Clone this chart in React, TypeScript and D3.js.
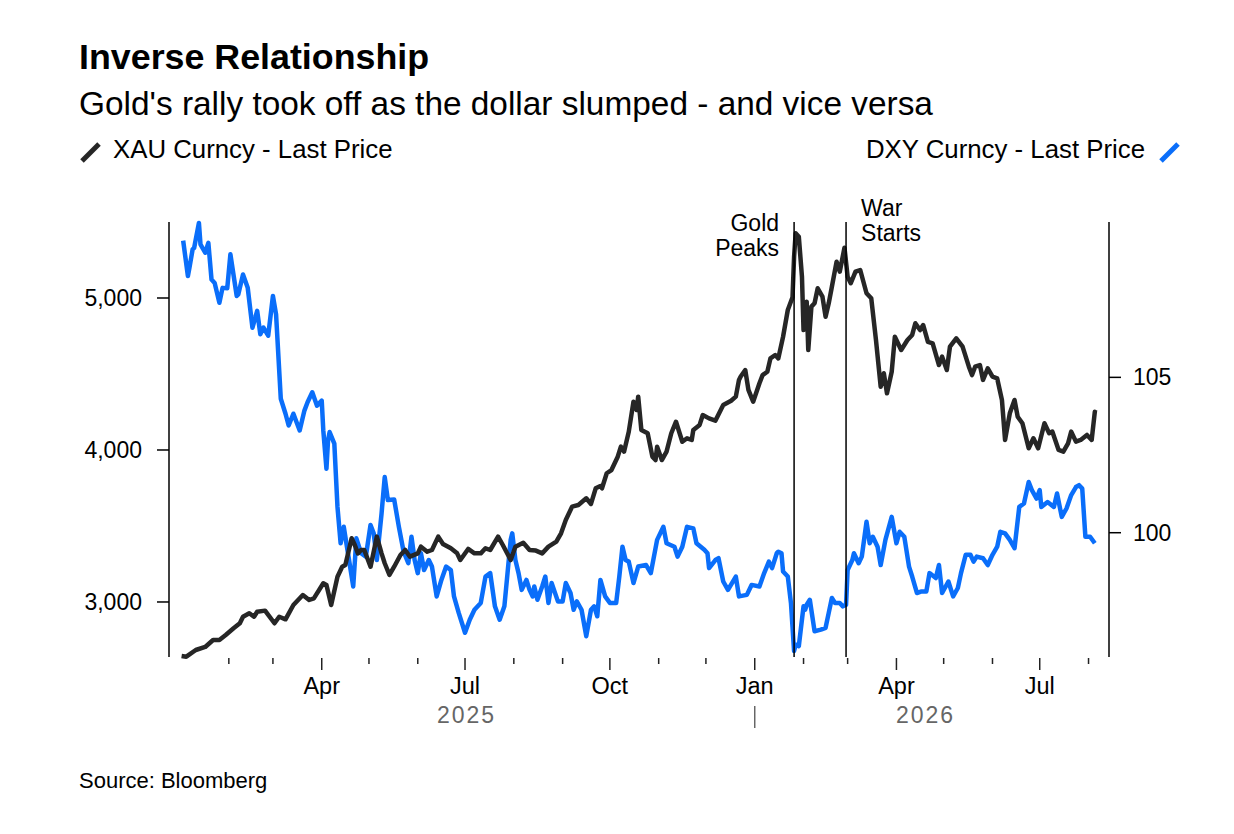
import * as d3 from 'd3'

// XAU Curncy - Last Price (left axis)
const xauDates = [
  '2025-01-02', '2025-01-05', '2025-01-11', '2025-01-17', '2025-01-22', '2025-01-26', '2025-01-30',
  '2025-02-04', '2025-02-08', '2025-02-10', '2025-02-14', '2025-02-17', '2025-02-19', '2025-02-24',
  '2025-03-02', '2025-03-05', '2025-03-09', '2025-03-14', '2025-03-20', '2025-03-24', '2025-03-27',
  '2025-04-02', '2025-04-04', '2025-04-07', '2025-04-11', '2025-04-14', '2025-04-16', '2025-04-20',
  '2025-04-22', '2025-04-24', '2025-04-26', '2025-04-28', '2025-05-02', '2025-05-06', '2025-05-09',
  '2025-05-11', '2025-05-14', '2025-05-17', '2025-05-21', '2025-05-24', '2025-05-27', '2025-06-01',
  '2025-06-03', '2025-06-07', '2025-06-10', '2025-06-14', '2025-06-17', '2025-06-22', '2025-06-26',
  '2025-06-28', '2025-07-03', '2025-07-07', '2025-07-11', '2025-07-14', '2025-07-17', '2025-07-22',
  '2025-07-25', '2025-07-30', '2025-08-02', '2025-08-07', '2025-08-11', '2025-08-15', '2025-08-19',
  '2025-08-23', '2025-08-28', '2025-08-31', '2025-09-03', '2025-09-07', '2025-09-11', '2025-09-16',
  '2025-09-19', '2025-09-22', '2025-09-25', '2025-09-26', '2025-09-29', '2025-10-02', '2025-10-06',
  '2025-10-08', '2025-10-10', '2025-10-13', '2025-10-16', '2025-10-18', '2025-10-19', '2025-10-21',
  '2025-10-25', '2025-10-28', '2025-10-30', '2025-10-31', '2025-11-03', '2025-11-06', '2025-11-09',
  '2025-11-12', '2025-11-16', '2025-11-19', '2025-11-22', '2025-11-23', '2025-11-27', '2025-11-29',
  '2025-12-03', '2025-12-07', '2025-12-12', '2025-12-17', '2025-12-20', '2025-12-22', '2025-12-23',
  '2025-12-26', '2025-12-28', '2025-12-31', '2026-01-04', '2026-01-06', '2026-01-09', '2026-01-11',
  '2026-01-14', '2026-01-16', '2026-01-19', '2026-01-22', '2026-01-25', '2026-01-26', '2026-01-27',
  '2026-01-29', '2026-01-31', '2026-02-01', '2026-02-03', '2026-02-04', '2026-02-06', '2026-02-08',
  '2026-02-10', '2026-02-13', '2026-02-15', '2026-02-17', '2026-02-19', '2026-02-22', '2026-02-24',
  '2026-02-27', '2026-03-01', '2026-03-03', '2026-03-06', '2026-03-09', '2026-03-13', '2026-03-16',
  '2026-03-19', '2026-03-22', '2026-03-24', '2026-03-26', '2026-03-29', '2026-03-31', '2026-04-04',
  '2026-04-08', '2026-04-11', '2026-04-13', '2026-04-16', '2026-04-18', '2026-04-21', '2026-04-24',
  '2026-04-28', '2026-04-30', '2026-05-03', '2026-05-05', '2026-05-09', '2026-05-13', '2026-05-17',
  '2026-05-19', '2026-05-21', '2026-05-24', '2026-05-26', '2026-05-29', '2026-06-01', '2026-06-04',
  '2026-06-07', '2026-06-09', '2026-06-12', '2026-06-15', '2026-06-17', '2026-06-20', '2026-06-24',
  '2026-06-27', '2026-06-30', '2026-07-04', '2026-07-07', '2026-07-09', '2026-07-13', '2026-07-16',
  '2026-07-19', '2026-07-21', '2026-07-24', '2026-07-27', '2026-07-31', '2026-08-03', '2026-08-05',
  '2026-08-06',
]
const xauPrices = [
  2645, 2640, 2684, 2704, 2750, 2750, 2783,
  2827, 2860, 2903, 2926, 2903, 2936, 2943,
  2860, 2903, 2886, 2980, 3046, 3013, 3024,
  3123, 3112, 2980, 3166, 3232, 3243, 3419,
  3375, 3320, 3342, 3342, 3232, 3430, 3320,
  3255, 3178, 3232, 3309, 3342, 3298, 3320,
  3364, 3331, 3342, 3430, 3382, 3353, 3320,
  3276, 3349, 3320, 3320, 3353, 3342, 3430,
  3375, 3276, 3364, 3390, 3342, 3338, 3320,
  3364, 3397, 3452, 3539, 3627, 3638, 3682,
  3645, 3748, 3763, 3748, 3847, 3868, 3956,
  4022, 3989, 4120, 4318, 4263, 4351, 4132,
  4110, 3956, 3934, 4022, 3934, 3989, 4110,
  4186, 4054, 4077, 4066, 4132, 4165, 4230,
  4208, 4193, 4296, 4324, 4351, 4461, 4482,
  4526, 4395, 4318, 4439, 4493, 4515, 4603,
  4625, 4603, 4745, 4921, 5005, 5272, 5426,
  5403, 5140, 4789, 4976, 4658, 4943, 4965,
  5064, 5009, 4877, 4965, 5074, 5239, 5173,
  5331, 5140, 5097, 5173, 5184, 5031, 4998,
  4724, 4416, 4505, 4373, 4515, 4745, 4658,
  4724, 4757, 4834, 4789, 4822, 4712, 4702,
  4559, 4614, 4526, 4680, 4735, 4680, 4548,
  4493, 4548, 4559, 4461, 4537, 4482, 4471,
  4329, 4066, 4241, 4329, 4219, 4176, 4011,
  4077, 4011, 4176, 4110, 4121, 4000, 3989,
  4044, 4121, 4055, 4066, 4099, 4066, 4251,
  4245,
]

// DXY Curncy - Last Price (right axis)
const dxyDates = [
  '2025-01-03', '2025-01-06', '2025-01-07', '2025-01-09', '2025-01-10', '2025-01-13', '2025-01-14',
  '2025-01-17', '2025-01-19', '2025-01-21', '2025-01-23', '2025-01-26', '2025-01-28', '2025-01-31',
  '2025-02-02', '2025-02-06', '2025-02-07', '2025-02-10', '2025-02-13', '2025-02-16', '2025-02-19',
  '2025-02-21', '2025-02-23', '2025-02-26', '2025-03-01', '2025-03-03', '2025-03-06', '2025-03-09',
  '2025-03-11', '2025-03-14', '2025-03-18', '2025-03-21', '2025-03-23', '2025-03-26', '2025-03-29',
  '2025-04-01', '2025-04-02', '2025-04-04', '2025-04-05', '2025-04-06', '2025-04-09', '2025-04-11',
  '2025-04-13', '2025-04-15', '2025-04-17', '2025-04-21', '2025-04-23', '2025-04-26', '2025-04-29',
  '2025-05-02', '2025-05-04', '2025-05-06', '2025-05-09', '2025-05-11', '2025-05-13', '2025-05-17',
  '2025-05-20', '2025-05-23', '2025-05-26', '2025-05-28', '2025-05-30', '2025-06-01', '2025-06-03',
  '2025-06-05', '2025-06-08', '2025-06-10', '2025-06-13', '2025-06-16', '2025-06-19', '2025-06-22',
  '2025-06-24', '2025-06-27', '2025-07-01', '2025-07-04', '2025-07-07', '2025-07-11', '2025-07-14',
  '2025-07-17', '2025-07-20', '2025-07-23', '2025-07-26', '2025-07-28', '2025-07-30', '2025-07-31',
  '2025-08-02', '2025-08-04', '2025-08-06', '2025-08-09', '2025-08-11', '2025-08-13', '2025-08-14',
  '2025-08-16', '2025-08-19', '2025-08-21', '2025-08-23', '2025-08-25', '2025-08-29', '2025-09-01',
  '2025-09-03', '2025-09-06', '2025-09-08', '2025-09-10', '2025-09-13', '2025-09-16', '2025-09-19',
  '2025-09-21', '2025-09-23', '2025-09-25', '2025-09-28', '2025-10-01', '2025-10-05', '2025-10-07',
  '2025-10-09', '2025-10-11', '2025-10-13', '2025-10-16', '2025-10-19', '2025-10-24', '2025-10-27',
  '2025-10-31', '2025-11-04', '2025-11-06', '2025-11-11', '2025-11-13', '2025-11-16', '2025-11-19',
  '2025-11-23', '2025-11-25', '2025-11-30', '2025-12-02', '2025-12-03', '2025-12-07', '2025-12-09',
  '2025-12-12', '2025-12-15', '2025-12-20', '2025-12-22', '2025-12-27', '2025-12-30', '2026-01-04',
  '2026-01-07', '2026-01-10', '2026-01-12', '2026-01-15', '2026-01-16', '2026-01-18', '2026-01-19',
  '2026-01-22', '2026-01-24', '2026-01-26', '2026-01-27', '2026-01-29', '2026-02-01', '2026-02-02',
  '2026-02-03', '2026-02-05', '2026-02-08', '2026-02-12', '2026-02-15', '2026-02-17', '2026-02-19',
  '2026-02-21', '2026-02-24', '2026-02-26', '2026-02-28', '2026-03-01', '2026-03-04', '2026-03-05',
  '2026-03-08', '2026-03-10', '2026-03-13', '2026-03-15', '2026-03-17', '2026-03-20', '2026-03-22',
  '2026-03-25', '2026-03-29', '2026-04-01', '2026-04-03', '2026-04-06', '2026-04-09', '2026-04-11',
  '2026-04-14', '2026-04-17', '2026-04-20', '2026-04-22', '2026-04-26', '2026-04-28', '2026-04-30',
  '2026-05-04', '2026-05-07', '2026-05-10', '2026-05-12', '2026-05-15', '2026-05-18', '2026-05-20',
  '2026-05-22', '2026-05-26', '2026-05-29', '2026-06-01', '2026-06-04', '2026-06-06', '2026-06-09',
  '2026-06-12', '2026-06-15', '2026-06-18', '2026-06-21', '2026-06-24', '2026-06-26', '2026-06-29',
  '2026-07-01', '2026-07-02', '2026-07-06', '2026-07-10', '2026-07-12', '2026-07-15', '2026-07-18',
  '2026-07-21', '2026-07-24', '2026-07-26', '2026-07-28', '2026-07-30', '2026-08-02', '2026-08-05',
]
const dxyPrices = [
  109.4, 108.26, 108.53, 109.12, 109.17, 109.97, 109.28,
  109.01, 109.33, 108.15, 108.04, 107.4, 107.88, 107.87,
  108.96, 107.62, 107.67, 108.31, 107.88, 106.6, 107.14,
  106.39, 106.6, 106.34, 107.62, 107.03, 104.31, 103.83,
  103.45, 103.83, 103.29, 103.93, 104.2, 104.52, 104.09,
  104.25, 103.29, 102.06, 102.97, 103.24, 102.87, 100.83,
  99.66, 100.19, 99.55, 98.27, 99.82, 99.34, 99.23,
  100.25, 99.98, 99.12, 100.62, 101.79, 101.05, 101.07,
  100.19, 99.39, 99.02, 99.87, 99.12, 98.7, 99.34,
  98.8, 99.12, 98.91, 97.95, 98.48, 98.91, 98.8,
  97.95, 97.42, 96.78, 97.2, 97.52, 97.74, 98.59,
  98.7, 97.63, 97.2, 97.63, 98.7, 99.77, 99.98,
  99.12, 98.7, 98.16, 98.48, 98.16, 97.95, 98.27,
  97.84, 98.27, 98.59, 97.74, 98.38, 97.79, 97.79,
  98.38, 98.06, 97.52, 97.79, 97.52, 96.67, 97.52,
  97.63, 97.31, 98.48, 97.95, 97.74, 97.74, 98.59,
  99.55, 99.12, 99.07, 98.38, 98.91, 98.96, 98.7,
  99.77, 100.19, 99.66, 99.55, 99.23, 99.55, 100.19,
  100.14, 99.66, 99.45, 99.34, 98.86, 99.12, 99.18,
  98.43, 98.16, 98.59, 97.95, 98.0, 98.32, 98.27,
  98.7, 99.07, 98.86, 99.34, 99.39, 99.34, 98.75,
  98.59, 97.74, 96.19, 96.4, 96.35, 97.63, 97.52,
  97.68, 97.84, 96.83, 96.88, 96.94, 97.42, 97.9,
  97.74, 97.74, 97.63, 97.68, 98.8, 99.12, 99.34,
  99.02, 99.23, 100.35, 99.66, 99.87, 99.55, 98.96,
  99.77, 100.51, 99.66, 100.03, 99.87, 98.91, 98.59,
  98.06, 98.11, 98.11, 98.7, 98.54, 98.96, 98.06,
  98.43, 97.95, 98.22, 98.7, 99.29, 99.29, 99.07,
  99.23, 99.18, 98.96, 99.29, 99.55, 100.03, 99.98,
  99.77, 99.5, 100.83, 100.94, 101.63, 101.37, 101.1,
  101.37, 100.83, 100.99, 100.83, 101.26, 100.51, 100.78,
  101.21, 101.47, 101.53, 101.42, 99.87, 99.87, 99.66,
]

const leftTicks = [3000, 4000, 5000]
const rightTicks = [100, 105]
const eventDates = ['2026-01-26', '2026-02-28']
const eventLabels = [['Gold', 'Peaks'], ['War', 'Starts']]
const seriesNames = ['XAU Curncy - Last Price', 'DXY Curncy - Last Price']

const W = 1234
const H = 834
const FONT = '"Liberation Sans", Arial, Helvetica, sans-serif'
const BLACK = '#262626'
const BLUE = '#0a6efa'

const parse = d3.utcParse('%Y-%m-%d')

export default function App() {
  const top = 222
  const bottom = 657
  const left = 169
  const right = 1109

  const x = d3
    .scaleUtc()
    .domain([new Date(Date.UTC(2024, 11, 25)), new Date(Date.UTC(2026, 7, 14))])
    .range([left, right])
  const yL = d3.scaleLinear().domain([2638, 5500]).range([bottom, top])
  const yR = d3.scaleLinear().domain([96, 110]).range([bottom, top])

  const xau = xauDates.map((d, i) => ({ date: parse(d)!, value: xauPrices[i] }))
  const dxy = dxyDates.map((d, i) => ({ date: parse(d)!, value: dxyPrices[i] }))

  const xauLine = d3
    .line<{ date: Date; value: number }>()
    .x((d) => x(d.date))
    .y((d) => yL(d.value))
  const dxyLine = d3
    .line<{ date: Date; value: number }>()
    .x((d) => x(d.date))
    .y((d) => yR(d.value))

  // monthly ticks, first one at Feb 2025
  const months = d3.utcMonth.range(new Date(Date.UTC(2025, 1, 1)), x.domain()[1])
  const isMajor = (m: Date) => m.getUTCMonth() % 3 === 0
  const lastDate = xau[xau.length - 1].date
  const years = [2025, 2026].map((yr) => {
    const s = new Date(Date.UTC(yr, 0, 1))
    const e = d3.min([new Date(Date.UTC(yr, 11, 31)), lastDate])!
    return { yr, cx: (x(s) + x(e)) / 2 }
  })
  const yearBreak = new Date(Date.UTC(2026, 0, 1))

  return (
    <svg
      width={W}
      height={H}
      style={{ position: 'absolute', left: 0, top: 0, background: '#fff' }}
      fontFamily={FONT}
    >
      <rect width={W} height={H} fill="#fff" />
      <text x={79} y={69} fontSize={35.8} fontWeight="bold" fill="#000">
        Inverse Relationship
      </text>
      <text x={79} y={115} fontSize={33.4} fill="#000">
        Gold's rally took off as the dollar slumped - and vice versa
      </text>

      {/* legend */}
      <line x1={82} y1={161} x2={99} y2={144} stroke={BLACK} strokeWidth={5} />
      <text x={113} y={158} fontSize={25.8} fill="#000">
        {seriesNames[0]}
      </text>
      <text x={1145} y={158} fontSize={25.8} fill="#000" textAnchor="end">
        {seriesNames[1]}
      </text>
      <line x1={1161} y1={161} x2={1178} y2={144} stroke={BLUE} strokeWidth={5} />

      {/* axes */}
      <line x1={left} y1={top} x2={left} y2={bottom} stroke="#000" strokeWidth={1.5} />
      <line x1={right} y1={top} x2={right} y2={bottom} stroke="#000" strokeWidth={1.5} />
      {leftTicks.map((t) => (
        <g key={t}>
          <line x1={left - 12} x2={left} y1={yL(t)} y2={yL(t)} stroke="#000" strokeWidth={1.5} />
          <text x={142} y={yL(t) + 8} fontSize={23} textAnchor="end" fill="#000">
            {d3.format(',')(t)}
          </text>
        </g>
      ))}
      {rightTicks.map((t) => (
        <g key={t}>
          <line x1={right} x2={right + 12} y1={yR(t)} y2={yR(t)} stroke="#000" strokeWidth={1.5} />
          <text x={1133} y={yR(t) + 8} fontSize={23} fill="#000">
            {t}
          </text>
        </g>
      ))}
      {months.map((m) => (
        <g key={m.toISOString()}>
          <line
            x1={x(m)}
            x2={x(m)}
            y1={658}
            y2={isMajor(m) ? 670 : 664}
            stroke="#222"
            strokeWidth={1.5}
          />
          {isMajor(m) && (
            <text x={x(m)} y={694} fontSize={23.5} textAnchor="middle" fill="#000">
              {d3.utcFormat('%b')(m)}
            </text>
          )}
        </g>
      ))}
      {years.map((y) => (
        <text
          key={y.yr}
          x={y.cx}
          y={723}
          fontSize={23}
          letterSpacing={2}
          textAnchor="middle"
          fill="#666"
        >
          {y.yr}
        </text>
      ))}
      <line
        x1={x(yearBreak)}
        x2={x(yearBreak)}
        y1={706}
        y2={728}
        stroke="#666"
        strokeWidth={1.5}
      />

      {/* series */}
      <path d={dxyLine(dxy) ?? ''} fill="none" stroke={BLUE} strokeWidth={4.5} strokeLinejoin="round" />
      <path d={xauLine(xau) ?? ''} fill="none" stroke={BLACK} strokeWidth={4.5} strokeLinejoin="round" />

      {/* event annotations */}
      {eventDates.map((d, i) => {
        const ex = x(parse(d)!)
        const isLeft = i === 0
        const y0 = isLeft ? 231 : 216
        return (
          <g key={d}>
            <line x1={ex} x2={ex} y1={top} y2={bottom} stroke="#000" strokeWidth={1.5} />
            {eventLabels[i].map((s, j) => (
              <text
                key={s}
                x={isLeft ? ex - 15 : ex + 15}
                y={y0 + j * 25}
                fontSize={23}
                textAnchor={isLeft ? 'end' : 'start'}
                fill="#000"
              >
                {s}
              </text>
            ))}
          </g>
        )
      })}

      <text x={79} y={788} fontSize={22} fill="#000">
        Source: Bloomberg
      </text>
    </svg>
  )
}
